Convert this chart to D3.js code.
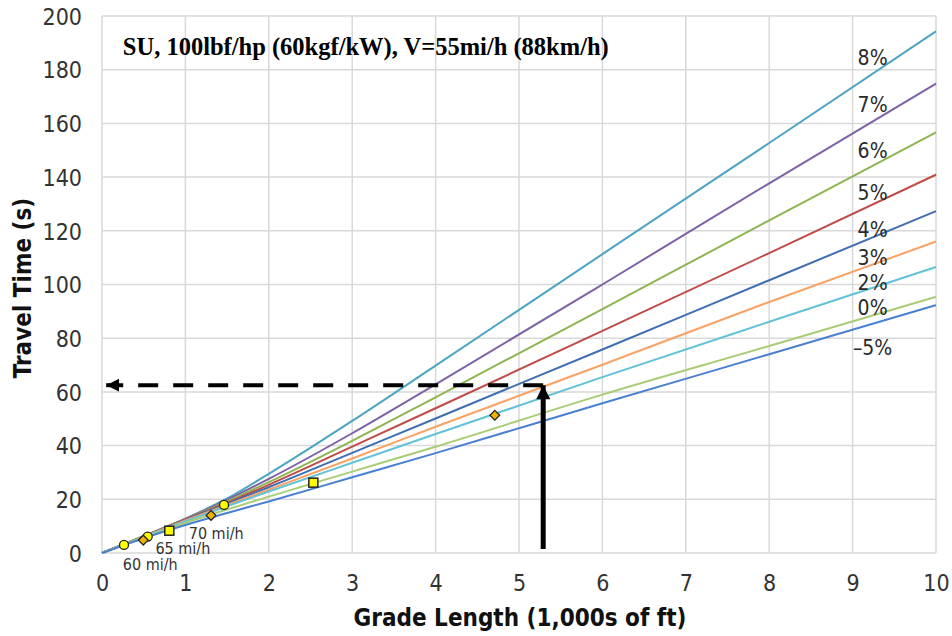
<!DOCTYPE html>
<html>
<head>
<meta charset="utf-8">
<script src="https://cdn.jsdelivr.net/npm/d3@7"></script>
<style>
  body { margin: 0; background: #fff; }
  text { font-family: "DejaVu Sans Condensed", "DejaVu Sans", sans-serif; font-stretch: condensed; }
</style>
</head>
<body>
<svg id="chart" width="952" height="636"></svg>
<script>
// grade length (1,000s of ft) at which each curve was read
var gradeLength = [0, 0.5, 1, 1.5, 2, 3, 4, 6, 8, 10];
// travel time (s) per grade
var time8 = [0, 6.3, 12.8, 20.3, 29.5, 49.2, 69.8, 111.3, 152.7, 194.3];
var time7 = [0, 6.3, 12.7, 19.8, 27.6, 44.6, 62.8, 100.0, 137.7, 174.8];
var time6 = [0, 6.3, 12.6, 19.2, 26.4, 41.8, 58.0, 90.8, 123.9, 156.7];
var time5 = [0, 6.2, 12.5, 18.7, 25.4, 39.6, 53.9, 82.7, 111.7, 140.9];
var time4 = [0, 6.2, 12.3, 18.4, 24.5, 37.3, 50.1, 75.8, 101.6, 127.3];
var time3 = [0, 6.1, 12.1, 17.9, 23.6, 35.2, 47.0, 70.1, 93.5, 116.0];
var time2 = [0, 6.0, 11.8, 17.4, 22.9, 33.6, 44.3, 65.5, 86.1, 106.5];
var time0 = [0, 5.8, 11.2, 16.2, 21.0, 30.3, 39.6, 59.0, 77.1, 95.4];
var timeM5 = [0, 5.5, 10.4, 14.9, 19.2, 28.2, 37.2, 55.8, 74.0, 92.3];

var grades = ["8%", "7%", "6%", "5%", "4%", "3%", "2%", "0%", "–5%"];
var gradeTimes = [time8, time7, time6, time5, time4, time3, time2, time0, timeM5];
var gradeColors = ["#4ba5c0", "#7d62a6", "#8fb450", "#bf4c49", "#3f6eb2", "#f8a264", "#62c2d8", "#a9cc76", "#4a80d2"];
// where each grade label sits (travel time value at its baseline)
var gradeLabelY = [181.6, 164.3, 147.0, 131.3, 117.6, 107.2, 97.9, 88.6, 73.7];

// speed markers (x = 1,000s ft, y = s)
var circlePts = [[0.264, 3.0], [0.548, 6.1], [1.463, 17.9]];
var diamondPts = [[0.495, 4.8], [1.307, 14.0], [4.71, 51.3]];
var squarePts = [[0.807, 8.3], [2.534, 26.2]];
var speedLabels = ["60 mi/h", "65 mi/h", "70 mi/h"];
var speedLabelPts = [[0.25, -6.2], [0.64, -0.5], [1.04, 5.3]];

// reading example: 5,300 ft at 3% -> about 62.5 s
var readX = 5.29, readY = 62.5;

var xTicks = [0, 1, 2, 3, 4, 5, 6, 7, 8, 9, 10];
var yTicks = [0, 20, 40, 60, 80, 100, 120, 140, 160, 180, 200];

var margin = {top: 16, right: 16, bottom: 83, left: 102};
var width = 952 - margin.left - margin.right;
var height = 636 - margin.top - margin.bottom;

var svg = d3.select("#chart");
var g = svg.append("g").attr("transform", "translate(" + margin.left + "," + margin.top + ")");

var x = d3.scaleLinear().domain([0, 10]).range([0, width]);
var y = d3.scaleLinear().domain([0, 200]).range([height, 0]);

// grid
g.append("g").selectAll("line").data(xTicks).join("line")
    .attr("x1", d => x(d)).attr("x2", d => x(d))
    .attr("y1", 0).attr("y2", height)
    .attr("stroke", "#d9d9d9").attr("stroke-width", 1.5);
g.append("g").selectAll("line").data(yTicks).join("line")
    .attr("x1", 0).attr("x2", width)
    .attr("y1", d => y(d)).attr("y2", d => y(d))
    .attr("stroke", "#d9d9d9").attr("stroke-width", 1.5);

// axes
var xAxis = g.append("g").attr("transform", "translate(0," + height + ")")
    .call(d3.axisBottom(x).tickValues(xTicks).tickSize(0).tickPadding(22).tickFormat(d3.format("d")));
var yAxis = g.append("g")
    .call(d3.axisLeft(y).tickValues(yTicks).tickSize(0).tickPadding(20).tickFormat(d3.format("d")));
[xAxis, yAxis].forEach(function(a) {
  a.select(".domain").remove();
  a.selectAll("text").attr("font-size", 23).attr("fill", "#333")
    .style("font-family", "'DejaVu Sans Condensed', 'DejaVu Sans', sans-serif");
});
yAxis.selectAll("text").attr("dy", "0.36em");

// curves
var line = d3.line()
    .x((d, i) => x(gradeLength[i]))
    .y(d => y(d))
    .curve(d3.curveMonotoneX);

g.append("g").selectAll("path").data(gradeTimes).join("path")
    .attr("d", d => line(d))
    .attr("fill", "none")
    .attr("stroke", (d, i) => gradeColors[i])
    .attr("stroke-width", 2);

g.append("g").selectAll("text").data(grades).join("text")
    .attr("x", x(9.24))
    .attr("y", (d, i) => y(gradeLabelY[i]))
    .attr("text-anchor", "middle")
    .attr("font-size", 21)
    .attr("fill", "#2a2a2a")
    .text(d => d);

// markers
g.append("g").selectAll("circle").data(circlePts).join("circle")
    .attr("cx", d => x(d[0])).attr("cy", d => y(d[1])).attr("r", 4.5)
    .attr("fill", "#ffff00").attr("stroke", "#222").attr("stroke-width", 1.3);
g.append("g").selectAll("path").data(diamondPts).join("path")
    .attr("d", d3.symbol(d3.symbolDiamond2, 60))
    .attr("transform", d => "translate(" + x(d[0]) + "," + y(d[1]) + ")")
    .attr("fill", "#f0b400").attr("stroke", "#222").attr("stroke-width", 1.3);
g.append("g").selectAll("rect").data(squarePts).join("rect")
    .attr("x", d => x(d[0]) - 4.5).attr("y", d => y(d[1]) - 4.5)
    .attr("width", 9).attr("height", 9)
    .attr("fill", "#ffff00").attr("stroke", "#222").attr("stroke-width", 1.5);

g.append("g").selectAll("text").data(speedLabels).join("text")
    .attr("x", (d, i) => x(speedLabelPts[i][0]))
    .attr("y", (d, i) => y(speedLabelPts[i][1]))
    .attr("font-size", 16)
    .attr("fill", "#333")
    .text(d => d);

// reading arrows
var defs = svg.append("defs");
defs.append("marker").attr("id", "headH")
    .attr("viewBox", "0 0 10 10").attr("refX", 10).attr("refY", 5)
    .attr("markerWidth", 3.2).attr("markerHeight", 3.2).attr("markerUnits", "strokeWidth")
    .attr("orient", "auto")
  .append("path").attr("d", "M0,0L10,5L0,10Z").attr("fill", "#000");
defs.append("marker").attr("id", "headV")
    .attr("viewBox", "0 0 10 10").attr("refX", 10).attr("refY", 5)
    .attr("markerWidth", 3.2).attr("markerHeight", 2.8).attr("markerUnits", "strokeWidth")
    .attr("orient", "auto")
  .append("path").attr("d", "M0,0L10,5L0,10Z").attr("fill", "#000");

g.append("line")
    .attr("x1", x(readX)).attr("y1", y(readY))
    .attr("x2", x(0.05) + 11).attr("y2", y(readY))
    .attr("stroke", "#000").attr("stroke-width", 4)
    .attr("stroke-dasharray", "20,15");
g.append("path")
    .attr("d", "M" + (x(0.05) + 12) + "," + y(readY) + "L" + x(0.05) + "," + y(readY))
    .attr("stroke", "#000").attr("stroke-width", 4)
    .attr("marker-end", "url(#headH)");

g.append("line")
    .attr("x1", x(readX)).attr("y1", y(1.5))
    .attr("x2", x(readX)).attr("y2", y(readY))
    .attr("stroke", "#000").attr("stroke-width", 5)
    .attr("marker-end", "url(#headV)");

// titles
g.append("text")
    .attr("x", x(0.25)).attr("y", y(200) + 39)
    .attr("font-size", 24.5).attr("font-weight", "bold")
    .style("font-family", "'Liberation Serif', 'Times New Roman', serif")
    .style("font-stretch", "normal")
    .text("SU, 100lbf/hp (60kgf/kW), V=55mi/h (88km/h)");

svg.append("text")
    .attr("transform", "translate(31,288) rotate(-90)")
    .attr("text-anchor", "middle")
    .attr("font-size", 24).attr("font-weight", "bold").attr("fill", "#111")
    .text("Travel Time (s)");

svg.append("text")
    .attr("x", 520).attr("y", 626)
    .attr("text-anchor", "middle")
    .attr("font-size", 24).attr("font-weight", "bold").attr("fill", "#111")
    .text("Grade Length (1,000s of ft)");
</script>
</body>
</html>
